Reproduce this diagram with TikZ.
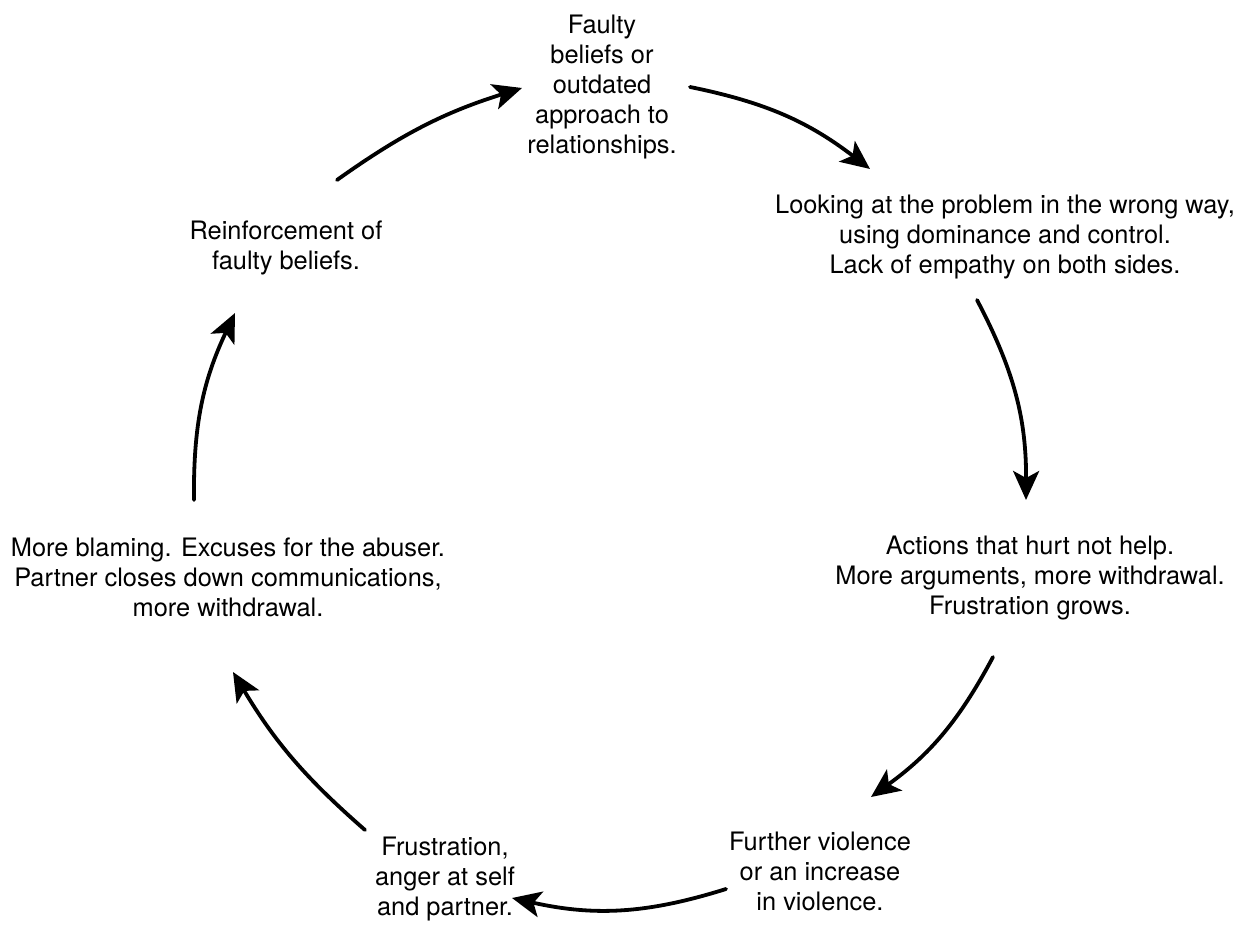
\documentclass[tikz,border=0pt]{standalone}
\usepackage{fontspec}
\setmainfont{TeX Gyre Heros}
\usetikzlibrary{arrows.meta}
\tikzset{
  lbl/.style={anchor=north, inner sep=0pt, align=center,
              font=\fontsize{25.4pt}{30pt}\selectfont},
  cyc/.style={line width=3.8pt, line cap=round,
              -{Stealth[length=29pt,width=26pt,inset=7pt]}},
}
\begin{document}
\begin{tikzpicture}[x=1pt,y=1pt]
  \useasboundingbox (0,0) rectangle (1247,924);

  % the seven stages of the cycle
  \node[lbl] (beliefs)   at (602,909) {Faulty\\beliefs or\\outdated\\approach to\\relationships.};
  \node[lbl] (wrongway)  at (1005,729) {Looking at the problem in the wrong way,\\using dominance and control.\\Lack of empathy on both sides.};
  \node[lbl] (actions)   at (1030,388.5) {Actions that hurt not help.\\More arguments, more withdrawal.\\Frustration grows.};
  \node[lbl] (violence)  at (820,92) {Further violence\\or an increase\\in violence.};
  \node[lbl] (anger)     at (445,87) {Frustration,\\anger at self\\and partner.};
  \node[lbl] (blaming)   at (228,386) {More blaming. Excuses for the abuser.\\Partner closes down communications,\\more withdrawal.};
  \node[lbl] (reinforce) at (286,703) {Reinforcement of\\faulty beliefs.};

  % arrow end points between the stages
  \coordinate (s1) at (337,744);  \coordinate (e1) at (522,836);
  \coordinate (s2) at (690,837);  \coordinate (e2) at (870,755);
  \coordinate (s3) at (977,624);  \coordinate (e3) at (1026,424);
  \coordinate (s4) at (993,267);  \coordinate (e4) at (871,127);
  \coordinate (s5) at (726,35);   \coordinate (e5) at (512,26);
  \coordinate (s6) at (365,94);   \coordinate (e6) at (233,252);
  \coordinate (s7) at (194,424);  \coordinate (e7) at (235,611);

  % clockwise arrows
  \draw[cyc] (s1) to[bend left=9]  (e1);
  \draw[cyc] (s2) to[bend left=13] (e2);
  \draw[cyc] (s3) to[bend left=14] (e3);
  \draw[cyc] (s4) to[bend left=13] (e4);
  \draw[cyc] (s5) to[bend left=15] (e5);
  \draw[cyc] (s6) to[bend left=9]  (e6);
  \draw[cyc] (s7) to[bend left=13] (e7);
\end{tikzpicture}
\end{document}
